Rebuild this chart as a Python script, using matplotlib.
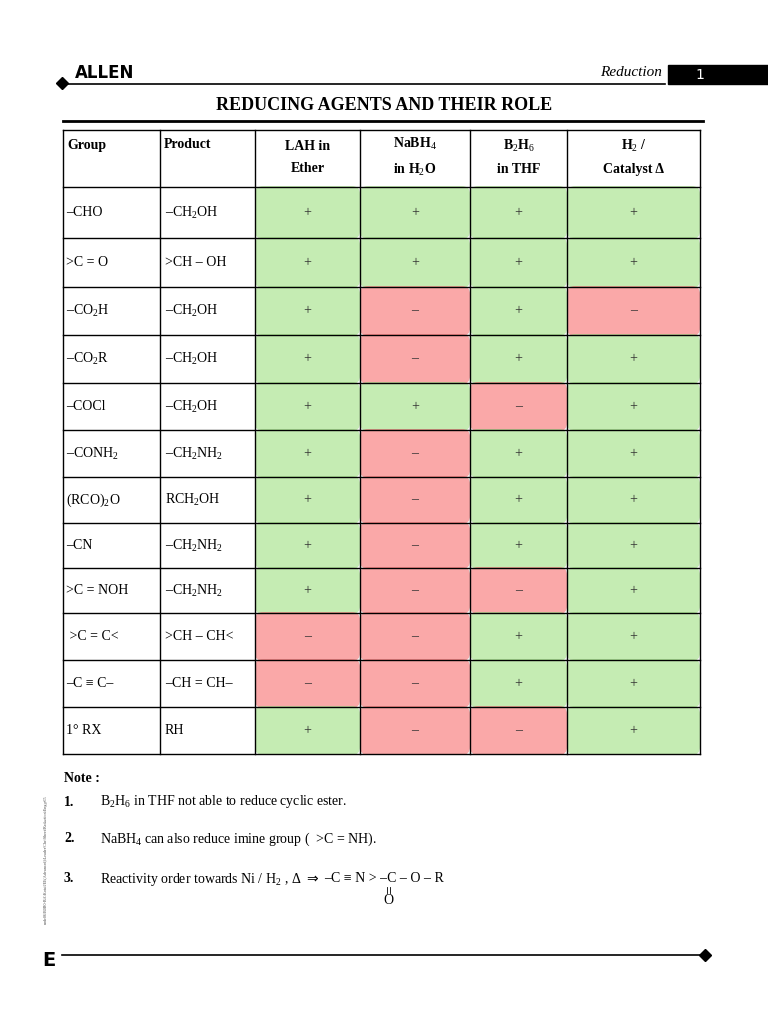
"""还原剂及其作用表格可视化。"""

import matplotlib
matplotlib.use("Agg")
import matplotlib.pyplot as plt
from matplotlib.patches import FancyBboxPatch, Rectangle

plt.rcParams["font.family"] = ["Liberation Serif", "DejaVu Serif"]
plt.rcParams["mathtext.fontset"] = "custom"
plt.rcParams["mathtext.rm"] = "Liberation Serif"
plt.rcParams["mathtext.it"] = "Liberation Serif:italic"


def save_reducing_agents_table(out_path: str) -> str:
    col_x = [63, 160, 255, 360, 470, 567, 700]
    row_y = [130, 187, 238, 287, 335, 383, 430, 477, 523, 568, 613, 660, 707, 754]
    headers = ["Group", "Product", "LAH in\nEther", "NaBH$_4$\nin H$_2$O",
               "B$_2$H$_6$\nin THF", "H$_2$ /\nCatalyst Δ"]
    rows = [
        ("–CHO", "–CH$_2$OH", "++++"),
        (">C = O", ">CH – OH", "++++"),
        ("–CO$_2$H", "–CH$_2$OH", "+-+-"),
        ("–CO$_2$R", "–CH$_2$OH", "+-++"),
        ("–COCl", "–CH$_2$OH", "++-+"),
        ("–CONH$_2$", "–CH$_2$NH$_2$", "+-++"),
        ("(RCO)$_2$O", "RCH$_2$OH", "+-++"),
        ("–CN", "–CH$_2$NH$_2$", "+-++"),
        (">C = NOH", "–CH$_2$NH$_2$", "+--+"),
        (" >C = C<", ">CH – CH<", "--++"),
        ("–C ≡ C–", "–CH = CH–", "--++"),
        ("1° RX", "RH", "+--+"),
    ]

    fig = plt.figure(figsize=(7.68, 10.24), dpi=100)
    ax = fig.add_axes([0, 0, 1, 1])
    ax.set_xlim(0, 768)
    ax.set_ylim(1024, 0)
    ax.axis("off")

    # 页眉
    ax.plot([62, 665], [84, 84], color="black", lw=1.2)
    ax.plot(62, 83, marker="D", color="black", ms=6)
    ax.text(75, 73, "ALLEN", fontsize=12, fontweight="bold", family="DejaVu Sans", va="center")
    ax.text(662, 73, "Reduction", fontsize=11, style="italic", ha="right", va="center")
    ax.add_patch(Rectangle((668, 65), 100, 19, color="black"))
    ax.text(700, 75, "1", color="white", fontsize=10, family="DejaVu Sans", va="center", ha="center")
    ax.text(384, 105, "REDUCING AGENTS AND THEIR ROLE", fontsize=13, fontweight="bold",
            ha="center", va="center")
    ax.plot([63, 703], [121, 121], color="black", lw=2)

    # 高亮色块
    green, red = "#a6e38a", "#f87a7a"
    for i, (_, _, marks) in enumerate(rows):
        y0, y1 = row_y[i + 1], row_y[i + 2]
        for j, m in enumerate(marks):
            x0, x1 = col_x[j + 2], col_x[j + 3]
            c = green if m == "+" else red
            ax.add_patch(FancyBboxPatch((x0 + 4, y0 + 3), x1 - x0 - 8, y1 - y0 - 6,
                                        boxstyle="round,pad=4,rounding_size=8",
                                        color=c, alpha=0.65, lw=0))
            ax.text((x0 + x1) / 2, (y0 + y1) / 2, "+" if m == "+" else "–",
                    fontsize=10, ha="center", va="center", color="#333333")

    # 表格线
    for x in col_x:
        ax.plot([x, x], [row_y[0], row_y[-1]], color="black", lw=1)
    for y in row_y:
        ax.plot([col_x[0], col_x[-1]], [y, y], color="black", lw=1)

    for j, h in enumerate(headers):
        if j < 2:
            ax.text(col_x[j] + 4, 145, h, fontsize=10, fontweight="bold", va="center")
        else:
            ax.text((col_x[j] + col_x[j + 1]) / 2, 157, h, fontsize=10, fontweight="bold",
                    ha="center", va="center", linespacing=1.9)

    for i, (grp, prod, _) in enumerate(rows):
        yc = (row_y[i + 1] + row_y[i + 2]) / 2
        ax.text(col_x[0] + 3, yc, grp, fontsize=10, va="center")
        ax.text(col_x[1] + 5, yc, prod, fontsize=10, va="center")

    # 注释
    ax.text(64, 778, "Note :", fontsize=10, fontweight="bold", va="center")
    notes = [
        (802, "1.", "B$_2$H$_6$ in THF not able to reduce cyclic ester."),
        (839, "2.", "NaBH$_4$ can also reduce imine group (  >C = NH)."),
    ]
    for y, num, txt in notes:
        ax.text(64, y, num, fontsize=10, fontweight="bold", va="center")
        ax.text(100, y, txt, fontsize=10, va="center")
    ax.text(64, 879, "3.", fontsize=10, fontweight="bold", va="center")
    ax.text(100, 879, "Reactivity order towards Ni / H$_2$ , Δ", fontsize=10, va="center")
    ax.text(306, 879, "⇒", fontsize=10, family="DejaVu Sans", va="center")
    ax.text(324, 879, "–C ≡ N > –C – O – R", fontsize=10, va="center")
    ax.plot([387, 387], [887, 893], color="black", lw=0.6)
    ax.plot([390, 390], [887, 893], color="black", lw=0.6)
    ax.text(388.5, 901, "O", fontsize=10, ha="center", va="center")

    ax.text(46, 860, "node06\\B0B0-BA\\Kota\\JEE(Advanced)\\Leader\\Che\\Sheet\\Reduction\\Eng.p65",
            fontsize=3, rotation=90, ha="center", va="center", color="#444444")

    # 页脚
    ax.plot([62, 705], [955, 955], color="black", lw=1.2)
    ax.plot(705, 955, marker="D", color="black", ms=6)
    ax.text(42, 960, "E", fontsize=14, fontweight="bold", family="DejaVu Sans", va="center")

    fig.savefig(out_path, dpi=100)
    plt.close(fig)
    return out_path


save_reducing_agents_table("out.png")
